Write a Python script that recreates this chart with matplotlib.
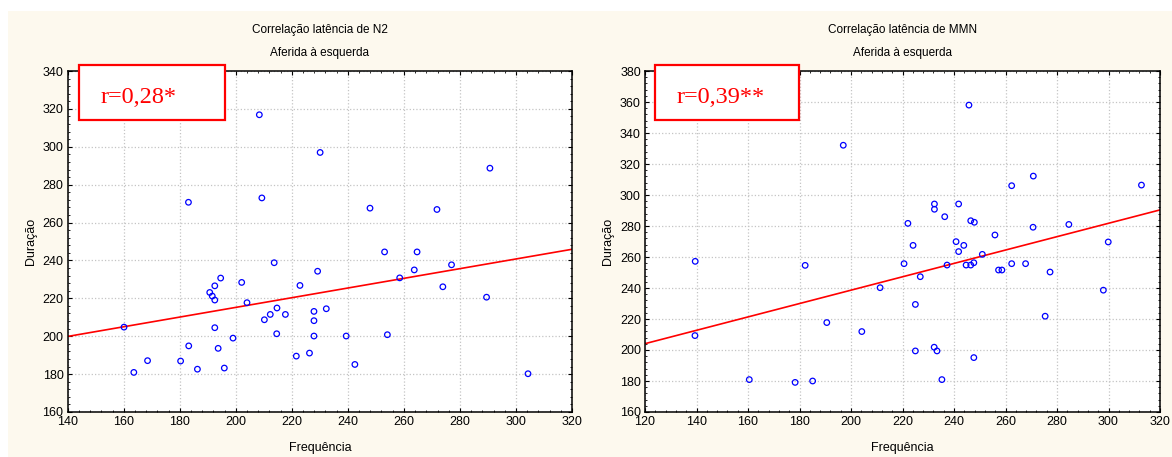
import numpy as np
import matplotlib
matplotlib.use("Agg")
import matplotlib.pyplot as plt
from matplotlib.patches import Rectangle
from matplotlib.ticker import MultipleLocator, AutoMinorLocator

plt.rcParams['font.family'] = ['Liberation Sans', 'DejaVu Sans']

# --- data ---
# N2 latency (left panel)
n2_freq = [208.4, 230.1, 183.1, 209.3, 247.9, 271.8, 290.7,
           253.1, 264.7, 213.7, 277.0, 229.2, 263.7, 194.6, 258.5, 202.1,
           222.9, 192.5, 273.9, 190.7, 191.6, 289.5, 192.5, 204.0, 214.7,
           232.3, 227.9, 212.3, 217.7, 210.2, 227.9, 160.1, 192.5, 214.6,
           254.1, 227.9, 239.4, 199.0, 183.2, 193.7, 226.3, 221.6, 168.5,
           180.3, 242.5, 195.9, 186.3, 163.6, 304.3]
n2_dur = [316.9, 297.0, 270.7, 273.0, 267.6, 266.9, 288.7,
          244.5, 244.5, 238.8, 237.7, 234.3, 235.0, 230.7, 230.8, 228.4,
          226.8, 226.6, 226.1, 223.1, 221.2, 220.6, 219.1, 217.7, 214.9,
          214.5, 213.1, 211.5, 211.5, 208.7, 208.2, 204.8, 204.5, 201.3,
          200.8, 200.1, 200.1, 199.0, 194.9, 193.6, 191.1, 189.5, 187.1,
          186.9, 185.1, 183.2, 182.6, 180.9, 180.2]
n2_fit = [0.2556, 164.1]      # slope, intercept
n2_r = "r=0,28*"

# MMN latency (right panel)
mmn_freq = [197.0, 245.8, 262.4, 270.8, 312.8, 232.4, 232.4, 241.8,
            236.4, 222.1, 246.5, 247.9, 270.7, 284.6, 255.9, 240.8,
            299.9, 224.1, 243.8, 241.8, 251.0, 139.5, 220.6, 262.4,
            267.8, 247.7, 246.5, 244.7, 237.3, 182.2, 257.3, 258.6,
            277.3, 226.9, 211.3, 298.0, 225.0, 275.4, 190.6, 204.2,
            139.4, 232.3, 225.0, 233.4, 247.7, 160.5, 235.3, 185.1, 178.3]
mmn_dur = [332.1, 358.0, 306.0, 312.2, 306.4, 294.2, 290.8, 294.2,
           286.0, 281.7, 283.4, 282.4, 279.2, 281.0, 274.2, 269.9,
           269.7, 267.5, 267.5, 263.5, 261.7, 257.2, 255.7, 255.7,
           255.7, 256.3, 254.8, 254.8, 254.8, 254.6, 251.6, 251.6,
           250.3, 247.3, 240.2, 238.6, 229.4, 221.8, 217.7, 211.9,
           209.3, 201.8, 199.4, 199.4, 195.1, 180.9, 180.9, 180.0, 179.1]
mmn_fit = [0.4315, 152.3]
mmn_r = "r=0,39**"

titles = ["Correlação latência de N2", "Correlação latência de MMN"]
subtitle = "Aferida à esquerda"
xlabel = "Frequência"
ylabel = "Duração"

W, H = 1172, 457
fig = plt.figure(figsize=(W / 100, H / 100), dpi=100)
fig.patch.set_facecolor("white")

# cream panel behind both plots
fig.patches.append(Rectangle((8 / W, 0), 1 - 8 / W, (H - 11) / H,
                             transform=fig.transFigure, facecolor="#fdf9ee",
                             edgecolor="none", zorder=-10))


def px(x0, y0, x1, y1):
    # pixel box (top-left origin) -> figure fraction [l, b, w, h]
    return [x0 / W, (H - y1) / H, (x1 - x0) / W, (y1 - y0) / H]


panels = [
    dict(rect=px(67.7, 71, 572, 412), x=n2_freq, y=n2_dur, fit=n2_fit, r=n2_r,
         xlim=(140, 320), ylim=(160, 340), box=(79, 65, 225, 120), title=titles[0]),
    dict(rect=px(645, 71, 1160, 412), x=mmn_freq, y=mmn_dur, fit=mmn_fit, r=mmn_r,
         xlim=(120, 320), ylim=(160, 380), box=(655, 65, 799, 120), title=titles[1]),
]

for p in panels:
    ax = fig.add_axes(p["rect"])
    ax.set_facecolor("white")
    ax.scatter(p["x"], p["y"], s=16, facecolors="none", edgecolors="#0000ff",
               linewidths=0.9, zorder=3)
    xs = np.array(p["xlim"])
    ax.plot(xs, p["fit"][0] * xs + p["fit"][1], color="#ff0000", lw=1.2, zorder=2)
    ax.set_xlim(p["xlim"])
    ax.set_ylim(p["ylim"])
    ax.xaxis.set_major_locator(MultipleLocator(20))
    ax.yaxis.set_major_locator(MultipleLocator(20))
    ax.xaxis.set_minor_locator(AutoMinorLocator(5))
    ax.yaxis.set_minor_locator(AutoMinorLocator(5))
    ax.grid(True, which="major", color="#c4c4c4", linestyle=":", linewidth=0.9)
    ax.tick_params(which="both", direction="in", top=True, right=True,
                   labelsize=9, colors="black", pad=3)
    ax.tick_params(which="major", length=3)
    ax.tick_params(which="minor", length=1.5)
    for s in ax.spines.values():
        s.set_linewidth(1.1)
    ax.set_xlabel(xlabel, fontsize=9, labelpad=10)
    ax.set_ylabel(ylabel, fontsize=9, labelpad=4)

    cx = (p["rect"][0] + p["rect"][2] / 2)
    fig.text(cx, 1 - 30 / H, p["title"], ha="center", va="center", fontsize=8.5)
    fig.text(cx, 1 - 53 / H, subtitle, ha="center", va="center", fontsize=8.5)

    bx0, by0, bx1, by1 = p["box"]
    fig.patches.append(Rectangle((bx0 / W, 1 - by1 / H), (bx1 - bx0) / W,
                                 (by1 - by0) / H, transform=fig.transFigure,
                                 facecolor="white", edgecolor="#ff0000",
                                 linewidth=1.6, zorder=5))
    fig.text((bx0 + 22) / W, 1 - ((by0 + by1) / 2 + 5) / H, p["r"], ha="left",
             va="center", fontsize=17.5, color="#ff0000",
             family=["Liberation Serif", "DejaVu Serif"], zorder=6)

fig.savefig("out.png", dpi=100)
